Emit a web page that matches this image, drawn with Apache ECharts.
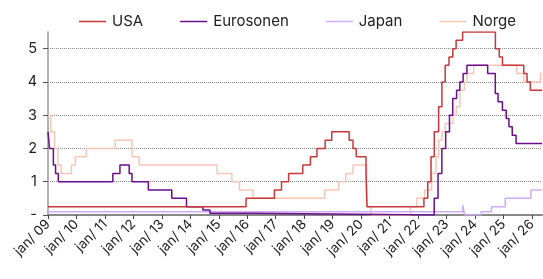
<!DOCTYPE html>
<html>
<head>
<meta charset="UTF-8">
<title>Styringsrenter</title>
<script src="https://cdn.jsdelivr.net/npm/echarts@6/dist/echarts.min.js"></script>
<style>
  html, body { margin: 0; padding: 0; background: #fff; }
  #chart { width: 543px; height: 279px; }
</style>
</head>
<body>
<div id="chart"></div>
<script>
// rentenivå fra endringsdato (holdes til neste endring)
var usa = [
  ['2009-01-01', 0.25], ['2015-12-17', 0.5], ['2016-12-15', 0.75], ['2017-03-16', 1.0],
  ['2017-06-15', 1.25], ['2017-12-14', 1.5], ['2018-03-22', 1.75], ['2018-06-14', 2.0],
  ['2018-09-27', 2.25], ['2018-12-20', 2.5], ['2019-08-01', 2.25], ['2019-09-19', 2.0],
  ['2019-10-31', 1.75], ['2020-03-04', 1.25], ['2020-03-16', 0.25], ['2022-03-17', 0.5],
  ['2022-05-05', 1.0], ['2022-06-16', 1.75], ['2022-07-28', 2.5], ['2022-09-22', 3.25],
  ['2022-11-03', 4.0], ['2022-12-15', 4.5], ['2023-02-02', 4.75], ['2023-03-23', 5.0],
  ['2023-05-04', 5.25], ['2023-07-27', 5.5], ['2024-09-19', 5.0], ['2024-11-08', 4.75],
  ['2024-12-19', 4.5], ['2025-09-18', 4.25], ['2025-10-30', 4.0], ['2025-12-11', 3.75]
];
var eurosonen = [
  ['2009-01-01', 2.5], ['2009-01-21', 2.0], ['2009-03-11', 1.5], ['2009-04-08', 1.25],
  ['2009-05-13', 1.0], ['2011-04-13', 1.25], ['2011-07-13', 1.5], ['2011-11-09', 1.25],
  ['2011-12-14', 1.0], ['2012-07-11', 0.75], ['2013-05-08', 0.5], ['2013-11-13', 0.25],
  ['2014-06-11', 0.15], ['2014-09-10', 0.05], ['2016-03-16', 0.0], ['2022-07-27', 0.5],
  ['2022-09-14', 1.25], ['2022-11-02', 2.0], ['2022-12-21', 2.5], ['2023-02-08', 3.0],
  ['2023-03-22', 3.5], ['2023-05-10', 3.75], ['2023-06-21', 4.0], ['2023-08-02', 4.25],
  ['2023-09-20', 4.5], ['2024-06-12', 4.25], ['2024-09-18', 3.65], ['2024-10-23', 3.4],
  ['2024-12-18', 3.15], ['2025-02-05', 2.9], ['2025-03-12', 2.65], ['2025-04-23', 2.4],
  ['2025-06-11', 2.15]
];
var japan = [
  ['2009-01-01', 0.1], ['2023-07-28', 0.3], ['2023-08-20', 0.0], ['2024-03-19', 0.1],
  ['2024-07-31', 0.25], ['2025-01-24', 0.5], ['2025-12-19', 0.75]
];
var norge = [
  ['2009-01-01', 3.0], ['2009-02-05', 2.5], ['2009-03-26', 2.0], ['2009-05-07', 1.5],
  ['2009-06-18', 1.25], ['2009-10-29', 1.5], ['2009-12-17', 1.75], ['2010-05-06', 2.0],
  ['2011-05-12', 2.25], ['2011-12-15', 1.75], ['2012-03-15', 1.5], ['2014-12-11', 1.25],
  ['2015-06-18', 1.0], ['2015-09-24', 0.75], ['2016-03-17', 0.5], ['2018-09-20', 0.75],
  ['2019-03-21', 1.0], ['2019-06-20', 1.25], ['2019-09-19', 1.5], ['2020-03-13', 1.0],
  ['2020-03-20', 0.25], ['2020-05-08', 0.0], ['2021-09-24', 0.25], ['2021-12-17', 0.5],
  ['2022-03-25', 0.75], ['2022-06-24', 1.25], ['2022-08-19', 1.75], ['2022-09-23', 2.25],
  ['2022-11-04', 2.5], ['2022-12-16', 2.75], ['2023-03-24', 3.0], ['2023-05-05', 3.25],
  ['2023-06-23', 3.75], ['2023-08-18', 4.0], ['2023-09-22', 4.25], ['2023-12-15', 4.5],
  ['2025-06-20', 4.25], ['2025-09-19', 4.0], ['2026-04-20', 4.25]
];
var sluttDato = '2026-05-10';
var navn = ['USA', 'Eurosonen', 'Japan', 'Norge'];
var farger = ['#c8373b', '#6a0e8c', '#cfaaf5', '#f9c6b6'];

function medSlutt(serie) {
  var s = serie.slice();
  s.push([sluttDato, serie[serie.length - 1][1]]);
  return s;
}

var chart = echarts.init(document.getElementById('chart'));
var font = 'Inter, "Noto Sans", sans-serif';
var year = 365.25 * 24 * 3600 * 1000;

chart.setOption({
  animation: false,
  textStyle: { fontFamily: font },
  legend: {
    top: 9,
    left: 74,
    icon: 'rect',
    itemWidth: 27,
    itemHeight: 1.5,
    itemGap: 37,
    textStyle: { fontSize: 15, color: '#222', fontFamily: font, padding: [0, 0, 0, 1] },
    data: navn
  },
  grid: { left: 48, right: 1, top: 32, bottom: 64, containLabel: false },
  xAxis: {
    type: 'time',
    min: '2009-01-01',
    max: sluttDato,
    minInterval: year,
    maxInterval: year,
    splitNumber: 18,
    axisLine: { lineStyle: { color: '#888', width: 2 } },
    axisTick: { show: true, length: 4, lineStyle: { color: '#444' } },
    splitLine: { show: false },
    axisLabel: {
      rotate: 45,
      fontSize: 13.5,
      color: '#222',
      margin: 7,
      hideOverlap: false,
      formatter: function (v) {
        var d = new Date(v);
        if (d.getMonth() !== 0) return '';
        return 'jan/ ' + String(d.getFullYear()).slice(2);
      }
    }
  },
  yAxis: {
    type: 'value',
    min: 0,
    max: 5.5,
    interval: 1,
    axisLine: { show: true, lineStyle: { color: '#999', width: 1.5 } },
    axisTick: { show: true, length: 5, lineStyle: { color: '#555' } },
    splitLine: {
      show: true,
      showMinLine: false,
      showMaxLine: false,
      lineStyle: { color: '#888', type: [1, 1], width: 1 }
    },
    axisLabel: {
      fontSize: 14.5,
      color: '#222',
      margin: 11,
      showMaxLabel: false,
      formatter: function (v) { return v === 0 ? '-' : (v % 1 === 0 ? String(v) : ''); }
    }
  },
  series: [usa, eurosonen, japan, norge].map(function (d, i) {
    return {
      name: navn[i],
      type: 'line',
      step: 'end',
      showSymbol: false,
      symbol: 'none',
      color: farger[i],
      lineStyle: { width: 1.5, color: farger[i] },
      z: 10 - i,
      data: medSlutt(d)
    };
  })
});
</script>
</body>
</html>
